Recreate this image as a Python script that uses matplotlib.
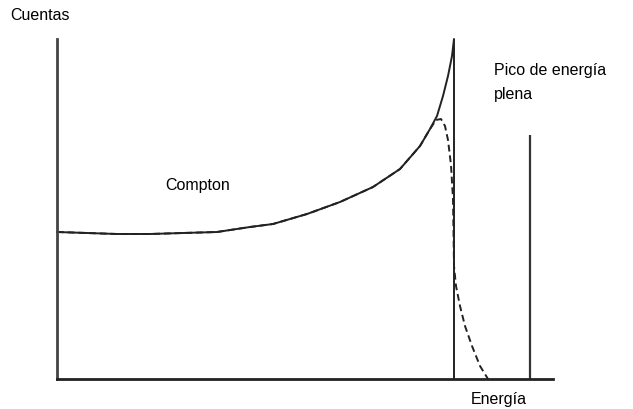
import matplotlib
matplotlib.use('Agg')
import matplotlib.pyplot as plt

plt.rcParams['font.family'] = ['Liberation Sans', 'DejaVu Sans']

# espectro Compton ideal (continuo) que termina en el borde Compton
energia = [0, 60, 93, 126, 160, 193, 216, 250, 283, 316, 343, 363, 373, 380, 386, 391, 395, 397, 397]
cuentas = [147, 145, 145, 146, 147, 152, 155, 165, 177, 192, 210, 233, 250, 263, 283, 303, 323, 340, 0]

# mismo espectro visto con la resolucion del detector
energia_res = [0, 60, 93, 126, 160, 193, 216, 250, 283, 316, 343, 363, 373, 379, 384, 388, 391, 394,
               396, 396.5, 397, 399, 403, 408, 415, 423, 431]
cuentas_res = [147, 145, 145, 146, 147, 152, 155, 165, 177, 192, 210, 233, 250, 259, 260, 253, 239, 214,
               180, 147, 113, 93, 73, 53, 33, 13, 0]

# pico de energia plena
pico_x = 473
pico_y = 244

fig = plt.figure(figsize=(6.33, 4.10), dpi=100)
ax = fig.add_axes([57 / 633, 30 / 410, 496 / 633, 340 / 410])
ax.set_xlim(0, 496)
ax.set_ylim(0, 340)

ax.plot(energia, cuentas, color='#222222', lw=1.4, clip_on=False)
ax.plot(energia_res, cuentas_res, color='#222222', lw=1.4, ls=(0, (3.5, 2)), clip_on=False)
ax.vlines(pico_x, 0, pico_y, color='#333333', lw=1.6)

for s in ['top', 'right']:
    ax.spines[s].set_visible(False)
ax.spines['left'].set_color('#444444')
ax.spines['bottom'].set_color('#222222')
ax.spines['left'].set_linewidth(2)
ax.spines['bottom'].set_linewidth(2)
ax.set_xticks([])
ax.set_yticks([])

fs = 11.5
fig.text(10 / 633, 1 - 15 / 410, 'Cuentas', fontsize=fs, va='center', ha='left')
fig.text(165 / 633, 1 - 186 / 410, 'Compton', fontsize=fs, va='center', ha='left')
fig.text(494 / 633, 1 - 70 / 410, 'Pico de energía', fontsize=fs, va='center', ha='left')
fig.text(494 / 633, 1 - 95 / 410, 'plena', fontsize=fs, va='center', ha='left')
fig.text(471 / 633, 1 - 400 / 410, 'Energía', fontsize=fs, va='center', ha='left')

fig.savefig('out.png', dpi=100)
